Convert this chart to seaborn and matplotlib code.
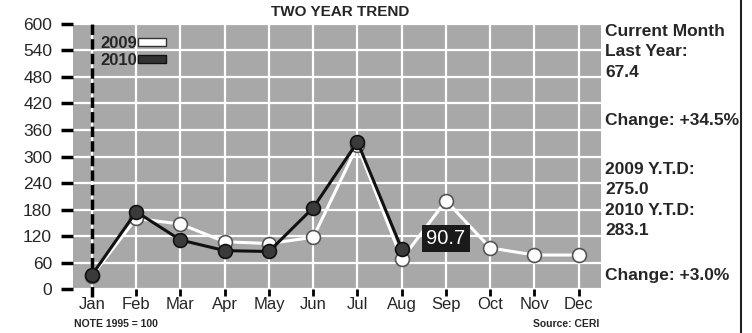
import seaborn as sns
import matplotlib.pyplot as plt
from matplotlib.patches import Patch

# values (index, 1995 = 100)
months = ['Jan', 'Feb', 'Mar', 'Apr', 'May', 'Jun', 'Jul', 'Aug', 'Sep', 'Oct', 'Nov', 'Dec']
vals_2009 = [30, 160, 147, 107, 103, 117, 325, 67.4, 200, 93, 77, 77]
vals_2010 = [32, 175, 111, 87, 85, 184, 333, 90.7]
y_ticks = [0, 60, 120, 180, 240, 300, 360, 420, 480, 540, 600]

callout = '90.7'
# (text, y in axes fraction, vertical alignment)
side_notes = [
    ('Current Month\nLast Year:\n67.4', 1.0, 'top'),
    ('Change: +34.5%', 0.634, 'center'),
    ('2009 Y.T.D:\n275.0\n2010 Y.T.D:\n283.1', 0.48, 'top'),
    ('Change: +3.0%', 0.05, 'center'),
]

sns.set_style('white')
plt.rcParams['font.family'] = ['Liberation Sans', 'DejaVu Sans']

fig = plt.figure(figsize=(7.52, 3.33), dpi=100)
ax = fig.add_axes([0.097, 0.132, 0.702, 0.796])
ax.set_facecolor('#a8a8a8')

# white 2009 series, dark 2010 series on top
sns.lineplot(x=months, y=vals_2009, ax=ax, sort=False, color='white', lw=2.2,
             marker='o', markersize=10, markerfacecolor='white',
             markeredgecolor='#555555', markeredgewidth=1.2, zorder=4)
sns.lineplot(x=months[:len(vals_2010)], y=vals_2010, ax=ax, sort=False,
             color='#111111', lw=2.2, marker='o', markersize=10,
             markerfacecolor='#3a3a3a', markeredgecolor='#111111',
             markeredgewidth=1.2, zorder=5)

ax.set_xlim(-0.43, 11.5)
ax.set_ylim(0, 600)
ax.set_yticks(y_ticks)
ax.set_xticks(range(len(months)))
ax.set_xticklabels(months)
ax.grid(True, color='white', lw=1.6)
ax.set_axisbelow(True)
for s in ax.spines.values():
    s.set_visible(False)

ax.tick_params(axis='y', length=9, width=2.5, color='black', pad=6,
               labelsize=12.5, direction='out', left=True)
ax.tick_params(axis='x', length=5, width=2, color='black', pad=1,
               labelsize=12, direction='out', bottom=True)

# dashed marker for the current year start
ax.axvline(0, color='black', lw=2.5, ls=(0, (3, 1.2)), zorder=3, clip_on=False,
           ymin=-0.03, ymax=1.01)

# callout box for the current month value
ax.text(8.0, 114, callout, ha='center', va='center', color='white',
        fontsize=14.5, zorder=6,
        bbox=dict(boxstyle='square,pad=0.2', fc='#1a1a1a', ec='none'))

handles = [Patch(fc='white', ec='#333333', lw=1),
           Patch(fc='#333333', ec='#111111', lw=1)]
ax.legend(handles, ['2009', '2010'], loc='upper left', bbox_to_anchor=(0.03, 1.0),
          frameon=False, markerfirst=False, handlelength=1.7, handleheight=0.35,
          handletextpad=0.05, labelspacing=0.15, borderaxespad=0.3,
          prop={'size': 12, 'weight': 'bold'})

fig.text(0.452, 0.963, 'TWO YEAR TREND', ha='center', va='center',
         fontsize=11, weight='bold')

for txt, y, va in side_notes:
    ax.text(1.008, y, txt, transform=ax.transAxes, ha='left', va=va,
            fontsize=12.5, weight='bold', linespacing=1.45)

fig.text(0.099, 0.028, 'NOTE 1995 = 100', ha='left', va='center', fontsize=7.5, weight='bold')
fig.text(0.797, 0.028, 'Source: CERI', ha='right', va='center', fontsize=7.5, weight='bold')

# frame edge on the right side
fig.add_artist(plt.Line2D([0.986, 0.986], [0.0, 1.0], transform=fig.transFigure,
                          color='#222222', lw=1.5))

fig.savefig('out.png', dpi=100)
